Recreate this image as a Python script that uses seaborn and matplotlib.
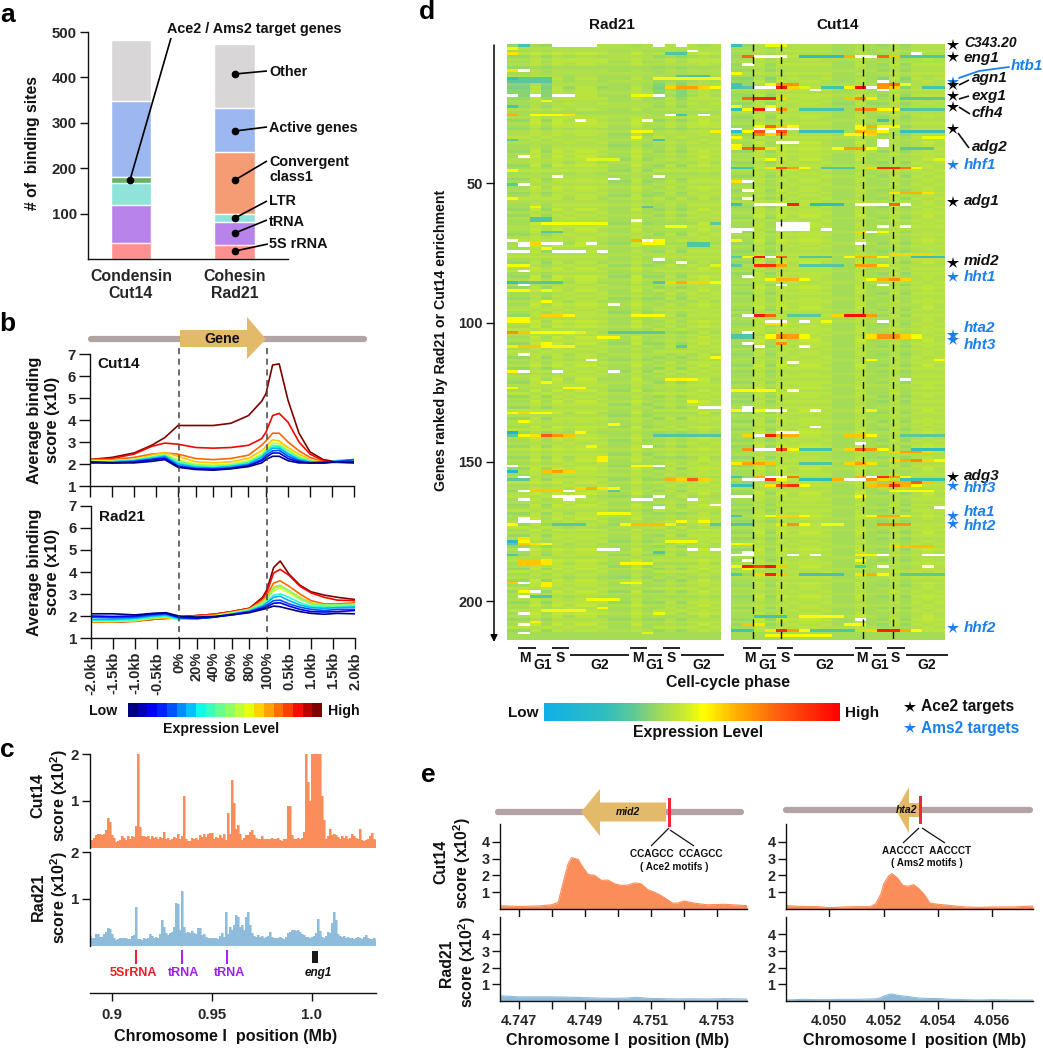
import numpy as np
import pandas as pd
import matplotlib
matplotlib.use("Agg")
import matplotlib.pyplot as plt
import seaborn as sns
from matplotlib.colors import LinearSegmentedColormap, ListedColormap
from matplotlib.patches import Polygon, Rectangle

W, H = 1043, 1050
W_CELL = np.nan  # white cell in the heatmaps

# panel a
a_categories = ["Condensin\nCut14", "Cohesin\nRad21"]
a_segments = ["5S rRNA", "tRNA", "LTR", "Ace2/Ams2", "Convergent", "Active", "Other"]
a_cut14 = [35, 85, 48, 12, 0, 167, 136]
a_rad21 = [30, 52, 18, 0, 135, 97, 141]
a_colors = ["#fe9090", "#b884ec", "#90e3da", "#66b266", "#f59c74", "#9db8f0", "#d8d6d7"]

# panel b
b_x = [-2, -1.5, -1, -.6, -.3, 0, .4, .8, 1.2, 1.6, 1.9, 2, 2.15, 2.3, 2.5, 2.75, 3, 3.3, 3.6, 4]
b_tick_pos = [-2, -1.5, -1, -.5, 0, .4, .8, 1.2, 1.6, 2, 2.5, 3, 3.5, 4]
b_tick_labels = ["-2.0kb", "-1.5kb", "-1.0kb", "-0.5kb", "0%", "20%", "40%", "60%", "80%", "100%",
                 "0.5kb", "1.0kb", "1.5kb", "2.0kb"]
b_cut14 = [
    [2.2, 2.3, 2.5, 2.85, 3.2, 3.75, 3.75, 3.75, 3.85, 4.2, 4.85, 5.2, 6.5, 6.55, 4.9, 3.4, 2.55, 2.2, 2.1, 2.1],
    [2.2, 2.25, 2.45, 2.8, 2.95, 2.9, 2.75, 2.72, 2.75, 2.85, 3.15, 3.45, 4.2, 4.3, 3.9, 3.0, 2.45, 2.15, 2.05, 2.1],
    [2.2, 2.2, 2.3, 2.45, 2.5, 2.45, 2.25, 2.2, 2.25, 2.4, 2.85, 3.05, 3.4, 3.4, 3.0, 2.6, 2.3, 2.1, 2.05, 2.05],
    [2.1, 2.15, 2.2, 2.4, 2.52, 2.35, 2.1, 2.05, 2.1, 2.25, 2.6, 2.8, 3.1, 3.05, 2.75, 2.45, 2.2, 2.08, 2.05, 2.1],
    [2.15, 2.15, 2.2, 2.35, 2.45, 2.2, 2.0, 1.95, 2.0, 2.15, 2.45, 2.65, 2.95, 2.95, 2.65, 2.35, 2.15, 2.05, 2.05, 2.15],
    [2.05, 2.1, 2.2, 2.3, 2.42, 2.12, 1.95, 1.9, 1.95, 2.1, 2.4, 2.6, 2.85, 2.85, 2.6, 2.3, 2.15, 2.05, 2.1, 2.1],
    [2.1, 2.1, 2.15, 2.3, 2.38, 2.05, 1.9, 1.85, 1.92, 2.05, 2.35, 2.55, 2.8, 2.8, 2.5, 2.25, 2.1, 2.05, 2.1, 2.15],
    [2.05, 2.1, 2.15, 2.25, 2.35, 2.0, 1.85, 1.82, 1.88, 2.0, 2.3, 2.5, 2.72, 2.72, 2.45, 2.2, 2.1, 2.05, 2.15, 2.2],
    [2.1, 2.05, 2.1, 2.2, 2.3, 1.92, 1.8, 1.78, 1.82, 1.95, 2.2, 2.4, 2.6, 2.62, 2.35, 2.15, 2.05, 2.1, 2.1, 2.2],
    [2.1, 2.05, 2.1, 2.2, 2.25, 1.88, 1.78, 1.75, 1.8, 1.92, 2.15, 2.3, 2.5, 2.5, 2.25, 2.1, 2.05, 2.05, 2.1, 2.1],
    [2.05, 2.05, 2.05, 2.12, 2.2, 1.85, 1.75, 1.72, 1.78, 1.88, 2.05, 2.2, 2.35, 2.35, 2.15, 2.05, 2.05, 2.05, 2.1, 2.05],
]
b_rad21 = [
    [1.75, 1.72, 1.78, 1.85, 1.9, 1.95, 2.02, 2.08, 2.2, 2.35, 2.85, 3.2, 4.2, 4.5, 3.9, 3.4, 3.1, 2.95, 2.85, 2.75],
    [1.75, 1.72, 1.78, 1.85, 1.9, 1.95, 2.02, 2.08, 2.2, 2.35, 2.8, 3.1, 3.95, 4.12, 3.85, 3.35, 3.05, 2.85, 2.72, 2.7],
    [1.72, 1.72, 1.75, 1.85, 1.88, 1.92, 2.0, 2.05, 2.18, 2.32, 2.7, 2.95, 3.5, 3.6, 3.35, 3.0, 2.7, 2.55, 2.55, 2.6],
    [1.75, 1.75, 1.78, 1.9, 1.92, 1.9, 1.95, 2.02, 2.15, 2.3, 2.65, 2.85, 3.3, 3.4, 3.15, 2.85, 2.6, 2.5, 2.5, 2.55],
    [1.78, 1.75, 1.8, 1.9, 1.95, 1.88, 1.92, 2.0, 2.15, 2.28, 2.6, 2.8, 3.15, 3.25, 3.05, 2.75, 2.55, 2.45, 2.45, 2.5],
    [1.8, 1.78, 1.82, 1.92, 1.98, 1.85, 1.9, 1.98, 2.12, 2.28, 2.6, 2.75, 3.25, 3.35, 3.15, 2.8, 2.55, 2.5, 2.5, 2.5],
    [1.82, 1.8, 1.85, 1.95, 2.0, 1.85, 1.88, 1.95, 2.1, 2.25, 2.5, 2.65, 2.95, 3.0, 2.85, 2.6, 2.45, 2.4, 2.4, 2.45],
    [1.85, 1.85, 1.9, 2.0, 2.05, 1.9, 1.88, 1.95, 2.08, 2.22, 2.45, 2.6, 2.85, 2.9, 2.7, 2.5, 2.38, 2.35, 2.38, 2.4],
    [1.95, 1.92, 1.95, 2.05, 2.1, 1.92, 1.88, 1.95, 2.08, 2.2, 2.4, 2.5, 2.7, 2.72, 2.55, 2.4, 2.3, 2.25, 2.3, 2.3],
    [2.0, 1.98, 2.0, 2.1, 2.12, 1.95, 1.9, 1.95, 2.05, 2.18, 2.35, 2.42, 2.58, 2.6, 2.45, 2.3, 2.2, 2.18, 2.2, 2.25],
    [2.1, 2.1, 2.05, 2.12, 2.15, 2.0, 1.95, 1.98, 2.05, 2.15, 2.3, 2.35, 2.45, 2.42, 2.32, 2.2, 2.12, 2.08, 2.12, 2.1],
]

# panel c, one value per kb from 0.889 Mb
c_start, c_step = 0.889, 0.001
c_cut14 = [.18, .18, .22, .28, .30, .29, .27, .30, .38, .64, .55, .28, .22, .13, .15, .18, .25, .22, .18, .26,
           .20, .26, .24, .47, 2.1, .45, .26, .25, .24, .26, .2, .25, .22, .24, .2, .24, .22, .34, .2, .22,
           .18, .2, .24, .22, .3, .2, .25, 1.1, .2, .15, .14, .22, .2, .22, .18, .28, .24, .3, .24, .3,
           .32, .32, .2, .24, .22, .27, .22, .3, .18, .74, .3, 1.45, .95, .4, .48, .3, .17, .22, .28, .28,
           .34, .38, .28, .22, .2, .2, .25, .2, .2, .2, .2, .22, .2, .2, .22, .18, .14, .2, .2, .9,
           .9, .28, .2, .2, .22, .2, .22, .35, 2.2, 1.4, 1.0, 2.5, 2.5, 2.5, 2.5, 2.5, 1.1, .6, .2, .25,
           .4, .28, .3, .27, .24, .2, .25, .22, .25, .2, .22, .3, .25, .22, .2, .4, .18, .15, .18, .2,
           .25, .32, .2, .18]
c_rad21 = [.22, .16, .18, .25, .26, .2, .2, .26, .3, .38, .36, .26, .18, .13, .14, .16, .16, .18, .16, .15,
           .14, .22, .24, .82, .14, .14, .13, .16, .14, .16, .25, .22, .18, .2, .18, .25, .55, .4, .28, .24,
           .28, .3, .4, .92, .9, .35, 1.18, .4, .28, .3, .28, .32, .28, .25, .38, .38, .24, .26, .2, .18,
           .18, .16, .18, .18, .15, .22, .28, .2, .72, .25, .4, .34, .45, .66, .62, .4, .44, .35, .62, .72,
           .45, .28, .22, .2, .24, .2, .22, .18, .2, .22, .3, .2, .18, .16, .18, .2, .18, .15, .2, .28,
           .3, .34, .34, .32, .34, .3, .26, .24, .2, .2, .16, .2, .22, .28, .58, .32, .2, .18, .22, .3,
           .28, .5, .72, .55, .25, .22, .2, .22, .18, .2, .18, .16, .15, .18, .2, .16, .15, .2, .24, .18,
           .15, .14, .16, .13]

# panel e
e_mid2_x = [4.7464, 4.7470, 4.7476, 4.7480, 4.7482, 4.74835, 4.7485, 4.7486, 4.7488, 4.7489, 4.7491, 4.7493,
            4.7495, 4.7497, 4.7499, 4.7501, 4.7503, 4.7505, 4.7507, 4.7509, 4.7511, 4.7513, 4.7515, 4.75165,
            4.7518, 4.7520, 4.7523, 4.7527, 4.7532, 4.7539]
e_mid2_cut14 = [.2, .15, .18, .25, .4, 1.6, 2.7, 3.05, 2.95, 2.6, 2.05, 2.0, 1.7, 1.72, 1.5, 1.4, 1.42, 1.55, 1.5,
                1.15, 1.0, .8, .55, .35, .35, .48, .35, .25, .28, .2]
e_mid2_rad21 = [.32, .25, .25, .25, .24, .24, .23, .22, .22, .2, .2, .18, .17, .17, .16, .17, .18, .22, .2, .16,
                .15, .15, .13, .13, .12, .13, .13, .12, .14, .12]
e_hta2_x = [4.0484, 4.049, 4.0496, 4.050, 4.0505, 4.051, 4.0515, 4.0517, 4.0519, 4.0520, 4.0522, 4.0523, 4.0525,
            4.0527, 4.0529, 4.0531, 4.0533, 4.0535, 4.0537, 4.054, 4.0545, 4.055, 4.0555, 4.056, 4.0568, 4.0575]
e_hta2_cut14 = [.2, .15, .14, .08, .12, .14, .14, .3, .9, 1.5, 2.0, 2.1, 1.85, 1.4, 1.35, 1.45, 1.2, .85, .35, .28,
                .2, .12, .1, .12, .12, .18]
e_hta2_rad21 = [.06, .1, .08, .08, .1, .1, .12, .13, .2, .3, .4, .42, .35, .3, .27, .22, .18, .16, .15, .15, .1,
                .08, .06, .08, .06, .06]

# panel d, general level of each row (digit per row) for four sets of columns
n_rows, n_cols = 214, 19
col_block = [0, 0, 1, 0, 1, 3, 1, 1, 3, 2, 2, 1, 2, 0, 3, 0, 3, 1, 3]
rad21_levels = [
    "46574656455664323334554655646546675655465664575645" "65645765546465566546756546754567546564755465675465"
    "65746564557646564756546657465647564665745656475646" "57465647564675645746564756465746546756475646574656"
    "46575646574",
    "56686777566676677777666756788767767667878778676677" "68767767686766878767788676767687688767867678767768"
    "78676878676776786767877686768767867768767876786778" "67877678677867687677867686776768776877867687768767"
    "78678767867",
    "66566656556556555655566556656556456545655465546554" "56554656555655465565546556556465546556556456554655"
    "56546554655654655465565546556465546554655645565465" "54656546556546556456554656554655646554655465564655"
    "46556546556",
    "66675776566555645657676656767757666767676757675667" "67676567667676576676657676765767676576676757676767"
    "67657676767565767676567667676767567667656767676756" "76767576767656767657676576767567676757676567676756"
    "76767567676",
]
cut14_levels = [
    "45654564546534436545645465456456456556465645565465" "56456465456546556465546545654656455646546556546465"
    "45654655465456546455646555464565465465465546455646" "54655464565465546456546654645564565465564655465645"
    "56465546456",
    "66766767667567677677676767767677676878777867767677" "67767677677876776777876767778676777678776777876777"
    "67776787767767787677677867767678767776787767877677" "67877677767877676778767778767678776778767768776787"
    "67767887677",
    "55555655565555655565545555565555565555655556555655" "56555565555565555655565556555556555655555655565556"
    "55565555565556555565556555655556555655565555565556" "55655556555565556555655565555565556555655565555655"
    "56555655565",
    "66767667667676667676766767667676676667676676676766" "76676766767667676676767667676676766767676676676766"
    "76767667676676767667676767667676766767676676767667" "67667676767667676767667676766767676676676767667676"
    "76676676767",
]

# single cells that stand out: (row, first column, last column, colour position)
rad21_cells = [
    (0, 1, 1, .25), (0, 4, 7, W_CELL), (0, 13, 13, W_CELL), (0, 15, 15, W_CELL), (1, 0, 0, .52), (2, 16, 16, W_CELL),
    (3, 0, 0, .58), (3, 14, 15, .27), (9, 0, 0, .58), (9, 1, 1, W_CELL), (11, 15, 15, .28), (11, 16, 17, .25),
    (12, 0, 0, .22), (12, 1, 3, .3), (12, 13, 18, .52), (13, 0, 3, .3), (15, 14, 14, .6), (15, 15, 16, .68),
    (15, 17, 17, .6), (15, 18, 18, .55), (18, 0, 0, W_CELL), (18, 2, 2, W_CELL), (18, 4, 5, W_CELL),
    (18, 13, 13, W_CELL), (18, 11, 12, .52), (20, 3, 3, .52), (22, 0, 0, .25), (25, 0, 0, .65), (25, 2, 4, .54),
    (25, 5, 5, .58), (25, 14, 14, W_CELL), (25, 15, 15, .25), (25, 17, 17, W_CELL), (27, 6, 6, W_CELL),
    (27, 12, 12, W_CELL), (31, 18, 18, .56), (31, 11, 12, .52), (33, 11, 11, .52), (34, 13, 13, .25), (34, 0, 0, .3),
    (40, 1, 1, W_CELL), (41, 7, 9, .5), (45, 0, 0, .55), (47, 4, 4, W_CELL), (47, 13, 13, W_CELL), (48, 9, 9, W_CELL),
    (50, 1, 1, W_CELL), (50, 0, 0, .3), (55, 0, 0, .53), (58, 2, 2, .56), (58, 12, 12, .28), (62, 2, 3, .27),
    (63, 2, 3, .27), (63, 11, 11, W_CELL), (64, 3, 8, .53), (64, 18, 18, .3), (65, 14, 15, .53), (67, 3, 4, .3),
    (70, 0, 0, W_CELL), (70, 11, 11, .65), (70, 12, 12, W_CELL), (70, 13, 13, .55), (71, 1, 1, W_CELL), (72, 1, 1, W_CELL),
    (71, 2, 2, .6), (71, 3, 4, W_CELL), (71, 7, 7, W_CELL), (71, 12, 13, .55), (71, 16, 17, .28), (72, 16, 17, .28),
    (73, 3, 3, .55), (74, 0, 1, W_CELL), (74, 4, 6, W_CELL), (74, 8, 8, W_CELL), (77, 13, 13, W_CELL), (78, 15, 15, W_CELL),
    (79, 0, 1, .53), (79, 18, 18, .5), (81, 1, 1, W_CELL), (85, 0, 0, .22), (85, 1, 2, .3), (85, 3, 4, .28), (85, 13, 13, .28),
    (85, 14, 14, .6), (85, 15, 15, .65), (85, 16, 17, .6), (85, 18, 18, .52), (86, 1, 1, W_CELL), (88, 0, 1, .55),
    (88, 3, 3, .52), (92, 3, 3, .54), (93, 9, 9, W_CELL), (97, 3, 4, .6), (97, 5, 5, .55), (97, 11, 13, .53),
    (98, 0, 1, .55), (99, 0, 1, .55), (103, 0, 0, .7), (103, 1, 1, .62), (103, 2, 5, .55), (103, 6, 6, .5),
    (103, 9, 13, .3), (105, 8, 9, .55), (107, 3, 3, .55), (108, 0, 0, .57), (108, 1, 2, .62), (108, 3, 3, .55),
    (108, 4, 5, .52), (108, 15, 15, .3), (111, 1, 1, W_CELL), (112, 18, 18, .53), (113, 7, 7, W_CELL), (117, 0, 0, .55),
    (117, 1, 1, W_CELL), (117, 4, 4, W_CELL), (117, 9, 9, W_CELL), (120, 14, 16, .52), (120, 15, 15, .56), (121, 3, 3, .53),
    (123, 0, 0, .53), (123, 5, 6, .55), (128, 16, 16, .52), (130, 17, 18, W_CELL), (132, 0, 0, .55), (132, 1, 1, .6),
    (132, 2, 3, .53), (135, 1, 1, .54), (136, 9, 9, .55), (139, 0, 0, .1), (139, 6, 6, .55), (140, 0, 0, .3), (140, 1, 1, .55),
    (140, 2, 2, .58), (140, 3, 3, .8), (140, 4, 4, .7), (140, 5, 5, .62), (140, 13, 18, .28), (144, 12, 12, W_CELL),
    (144, 7, 7, .52), (148, 8, 8, .56), (149, 8, 8, .56), (151, 0, 0, W_CELL), (151, 11, 12, .55), (151, 13, 13, W_CELL),
    (153, 0, 0, .12), (153, 3, 3, .62), (153, 4, 4, .68), (153, 5, 5, .6), (155, 1, 1, W_CELL), (156, 14, 14, .65),
    (156, 15, 15, .6), (156, 16, 16, .8), (156, 17, 17, .6), (156, 0, 1, .3), (159, 6, 6, .6), (159, 7, 7, .65),
    (159, 8, 8, .58), (159, 9, 9, .55), (160, 1, 1, W_CELL), (160, 2, 4, .62), (160, 5, 5, W_CELL), (160, 9, 9, .3),
    (162, 4, 6, W_CELL), (162, 13, 13, W_CELL), (163, 1, 1, W_CELL), (163, 5, 5, W_CELL), (163, 11, 12, W_CELL),
    (163, 16, 16, W_CELL), (165, 18, 18, W_CELL), (166, 13, 13, W_CELL), (168, 8, 10, .53), (170, 1, 1, W_CELL),
    (171, 1, 2, W_CELL), (171, 15, 15, .54), (171, 17, 17, .55), (172, 0, 0, .54), (172, 4, 6, .3), (172, 10, 10, .55),
    (172, 11, 13, .63), (172, 14, 14, .56), (172, 18, 18, .3), (177, 1, 1, .58), (178, 0, 0, .15), (178, 1, 1, .55),
    (178, 14, 16, .52), (179, 0, 0, .3), (179, 1, 1, .62), (179, 2, 2, .58), (179, 3, 3, .53), (181, 1, 1, W_CELL),
    (181, 8, 9, W_CELL), (181, 16, 16, W_CELL), (181, 18, 18, W_CELL), (182, 13, 13, .28), (183, 0, 0, .28),
    (185, 1, 2, .62), (186, 1, 2, .62), (185, 3, 3, .57), (186, 3, 3, .57), (186, 10, 11, .55), (186, 12, 12, .52),
    (193, 0, 0, .62), (193, 1, 1, W_CELL), (193, 3, 3, .56), (193, 10, 11, .53), (194, 3, 3, .56), (196, 1, 1, .55),
    (196, 2, 2, W_CELL), (198, 1, 1, W_CELL), (198, 2, 3, .28), (199, 7, 9, .53), (202, 8, 8, .55), (203, 3, 6, .52),
    (204, 1, 1, W_CELL), (204, 13, 13, .52), (207, 2, 2, .56), (208, 1, 1, W_CELL), (211, 1, 1, W_CELL), (211, 12, 12, .5),
]
cut14_cells = [
    (0, 0, 0, .22), (0, 3, 4, .52), (3, 16, 16, W_CELL), (4, 1, 1, .78), (4, 2, 4, W_CELL), (4, 6, 9, .2), (4, 10, 10, .65),
    (4, 11, 12, W_CELL), (4, 13, 13, .78), (4, 14, 14, .62), (4, 15, 18, .28), (7, 1, 1, W_CELL), (10, 0, 0, .55),
    (13, 13, 13, W_CELL), (14, 0, 0, .25), (14, 3, 3, .55), (14, 4, 5, .7), (14, 13, 13, .7), (14, 14, 14, .75), (14, 15, 15, .52),
    (15, 0, 0, .25), (15, 1, 1, .28), (15, 2, 3, W_CELL), (15, 4, 4, .95), (15, 5, 5, .6), (15, 6, 6, .5), (15, 8, 9, .25),
    (15, 10, 10, .55), (15, 11, 11, .98), (15, 12, 12, W_CELL), (15, 13, 13, .7), (15, 14, 14, .6), (15, 17, 18, .25),
    (16, 7, 7, W_CELL), (16, 13, 13, W_CELL), (19, 1, 1, .78), (19, 2, 3, .92), (19, 4, 4, .6), (19, 10, 10, .62),
    (19, 11, 11, .72), (19, 12, 12, .57), (19, 15, 18, .3), (22, 0, 0, .52), (22, 3, 3, .52), (23, 0, 0, .2), (23, 1, 1, .52),
    (23, 2, 2, .95), (23, 3, 3, W_CELL), (23, 4, 4, .7), (23, 6, 9, .25), (23, 11, 12, .72), (23, 13, 14, .55), (23, 15, 18, .28),
    (27, 13, 13, .25), (29, 2, 2, .53), (29, 3, 3, .78), (29, 4, 4, .62), (29, 5, 5, .55), (29, 11, 11, .55), (29, 12, 12, .65),
    (29, 13, 14, .55), (30, 0, 0, W_CELL), (30, 2, 2, W_CELL), (30, 3, 3, .55), (30, 4, 5, W_CELL), (30, 11, 11, .52),
    (30, 13, 13, W_CELL), (31, 0, 0, .2), (31, 1, 1, .53), (31, 2, 2, .82), (31, 3, 3, W_CELL), (31, 4, 4, .82), (31, 6, 9, .22),
    (31, 11, 11, .65), (31, 12, 12, .62), (31, 13, 13, .55), (31, 15, 18, .22), (32, 2, 2, .72), (32, 3, 3, .6), (32, 4, 4, .7),
    (32, 10, 11, .55), (32, 12, 12, .6), (33, 0, 0, .55), (33, 17, 18, .52), (34, 13, 13, W_CELL), (35, 4, 5, W_CELL),
    (35, 13, 13, W_CELL), (36, 13, 13, W_CELL), (36, 0, 0, .55), (37, 0, 0, .55), (37, 1, 2, .78), (37, 3, 3, .58), (37, 9, 9, .55),
    (37, 10, 11, .68), (37, 12, 12, .54), (37, 15, 17, .3), (41, 3, 3, .53), (41, 18, 18, .5), (44, 0, 1, .25), (44, 3, 3, .58),
    (44, 4, 4, .82), (44, 5, 5, .68), (44, 6, 6, .55), (44, 8, 10, .28), (44, 12, 12, .6), (44, 13, 14, .9), (44, 15, 15, .75),
    (44, 16, 16, .52), (49, 0, 0, .58), (49, 1, 1, W_CELL), (52, 1, 1, W_CELL), (53, 14, 14, .58), (53, 15, 16, .65), (53, 17, 17, .58),
    (55, 1, 1, W_CELL), (57, 0, 0, .22), (57, 2, 4, W_CELL), (57, 5, 5, .92), (57, 7, 9, .2), (57, 11, 13, W_CELL), (57, 14, 14, .78),
    (57, 15, 15, W_CELL), (64, 4, 6, W_CELL), (65, 4, 6, W_CELL), (65, 13, 13, W_CELL), (65, 15, 15, W_CELL), (66, 0, 1, W_CELL),
    (66, 4, 6, W_CELL), (66, 8, 8, W_CELL), (67, 0, 0, W_CELL), (67, 11, 11, .6), (67, 12, 12, W_CELL), (67, 13, 13, .53),
    (70, 0, 0, .55), (71, 11, 11, W_CELL), (75, 14, 17, .6), (76, 0, 0, .3), (76, 1, 1, .55), (76, 2, 2, .95), (76, 3, 3, W_CELL),
    (76, 4, 4, .78), (76, 6, 8, .28), (76, 10, 10, .55), (76, 11, 12, .65), (76, 13, 13, .55), (76, 16, 18, .22), (79, 0, 0, .3),
    (79, 2, 3, .9), (79, 4, 4, .68), (79, 6, 9, .28), (79, 11, 12, .68), (79, 13, 13, .55), (83, 1, 1, W_CELL), (84, 3, 3, .55),
    (84, 4, 5, .65), (84, 6, 6, .53), (84, 12, 12, .55), (84, 13, 13, .65), (84, 14, 14, .72), (84, 15, 15, .6), (86, 4, 4, W_CELL),
    (86, 13, 13, W_CELL), (97, 1, 1, W_CELL), (97, 2, 2, .95), (97, 3, 3, .78), (97, 5, 7, .3), (97, 9, 9, .6), (97, 10, 11, .97),
    (97, 12, 12, .68), (99, 3, 4, W_CELL), (99, 6, 6, W_CELL), (99, 8, 8, .52), (99, 13, 13, W_CELL), (100, 3, 4, .58),
    (103, 1, 1, W_CELL), (104, 0, 1, .27), (104, 3, 3, .55), (104, 4, 4, .7), (104, 5, 5, .68), (104, 6, 6, .55), (104, 12, 12, .58),
    (104, 13, 14, .7), (104, 15, 15, .6), (104, 16, 16, .53), (105, 0, 1, .27), (105, 3, 3, .55), (105, 4, 4, .7), (105, 5, 5, .68),
    (105, 6, 6, .55), (105, 12, 12, .58), (105, 13, 14, .7), (105, 15, 15, .6), (105, 16, 16, .53), (107, 1, 1, W_CELL),
    (107, 4, 4, .7), (108, 2, 2, W_CELL), (108, 6, 6, W_CELL), (113, 12, 12, .55), (113, 18, 18, .55), (114, 5, 5, W_CELL),
    (120, 15, 15, W_CELL), (124, 0, 0, .55), (124, 1, 3, .54), (124, 5, 5, W_CELL), (130, 1, 1, W_CELL), (131, 0, 0, .55),
    (131, 1, 1, W_CELL), (131, 2, 2, .55), (131, 3, 4, W_CELL), (131, 7, 7, W_CELL), (131, 12, 12, .56), (137, 7, 7, W_CELL),
    (139, 4, 5, W_CELL), (140, 1, 1, .6), (140, 2, 2, W_CELL), (140, 3, 3, .93), (140, 4, 5, .65), (140, 10, 11, .62), (140, 12, 12, .55),
    (140, 15, 18, .3), (143, 11, 11, W_CELL), (145, 1, 1, .7), (145, 2, 3, W_CELL), (145, 4, 4, .85), (145, 5, 5, .55), (145, 6, 8, .25),
    (145, 10, 10, .6), (145, 11, 11, .8), (145, 12, 12, .7), (145, 13, 13, .55), (145, 16, 18, .2), (146, 14, 14, .6), (146, 15, 16, .68),
    (146, 17, 17, .6), (149, 14, 14, .6), (149, 15, 15, .65), (149, 16, 16, .72), (149, 17, 17, .6), (149, 18, 18, .55), (150, 0, 0, .57),
    (150, 1, 2, .67), (150, 3, 3, .62), (150, 6, 8, .28), (150, 10, 10, .6), (150, 11, 11, .68), (150, 12, 12, .58), (155, 0, 0, .25),
    (155, 2, 2, .65), (155, 3, 4, W_CELL), (155, 5, 5, .75), (155, 11, 11, .65), (155, 12, 12, W_CELL), (155, 13, 13, .9), (155, 14, 14, .7),
    (155, 15, 15, .55), (156, 1, 2, W_CELL), (156, 3, 3, .88), (156, 4, 4, .55), (156, 6, 8, .2), (156, 9, 9, .65), (156, 10, 11, W_CELL),
    (156, 12, 12, .7), (156, 13, 13, .6), (156, 15, 18, .22), (157, 14, 15, .65), (157, 16, 16, .8), (157, 17, 17, .62), (158, 0, 1, .22),
    (158, 3, 3, .57), (158, 4, 4, .82), (158, 5, 5, .9), (158, 6, 6, .55), (158, 12, 12, .62), (158, 13, 13, .65), (158, 14, 14, .85),
    (158, 15, 15, .65), (158, 16, 16, .55), (160, 14, 17, .53), (162, 0, 1, W_CELL), (162, 11, 11, .54), (166, 18, 18, W_CELL),
    (169, 0, 0, .28), (169, 3, 3, .53), (169, 4, 5, .6), (169, 6, 6, .55), (169, 12, 12, .55), (169, 13, 14, .66), (169, 15, 15, .56),
    (172, 0, 1, .28), (172, 4, 4, .58), (172, 5, 5, .7), (172, 6, 6, .55), (172, 8, 9, .52), (172, 13, 15, .7), (179, 0, 0, .53),
    (179, 1, 1, .57), (180, 14, 14, .6), (180, 15, 17, .63), (182, 1, 1, W_CELL), (183, 0, 1, W_CELL), (183, 5, 5, W_CELL),
    (183, 7, 7, W_CELL), (183, 11, 12, .56), (183, 13, 13, W_CELL), (183, 17, 18, W_CELL), (185, 1, 1, W_CELL), (185, 11, 11, .54),
    (187, 0, 0, .55), (187, 1, 1, .95), (187, 2, 2, .85), (187, 3, 3, .95), (187, 4, 4, .62), (187, 11, 11, .3), (187, 13, 13, W_CELL),
    (187, 17, 17, W_CELL), (188, 1, 1, .55), (190, 0, 0, .28), (190, 2, 2, .6), (190, 3, 3, .92), (190, 4, 4, .62), (190, 6, 9, .25),
    (190, 11, 11, .58), (190, 12, 12, .65), (190, 13, 13, .55), (190, 15, 18, .3), (205, 2, 4, .25), (205, 6, 9, .53), (206, 11, 11, W_CELL),
    (208, 1, 1, .62), (208, 2, 2, .57), (208, 10, 11, .54), (210, 0, 1, .25), (210, 3, 3, .57), (210, 4, 4, .9), (210, 5, 5, .68),
    (210, 6, 6, .55), (210, 7, 10, .28), (210, 12, 12, .6), (210, 13, 14, .92), (210, 15, 15, .65), (210, 16, 16, .53), (212, 3, 8, .53),
]

sns.set_style("white")
plt.rcParams["font.family"] = ["Liberation Sans", "DejaVu Sans"]
plt.rcParams["font.weight"] = "bold"
plt.rcParams["axes.labelweight"] = "bold"
plt.rcParams["mathtext.fontset"] = "custom"
plt.rcParams["mathtext.bf"] = "Liberation Sans:bold"
plt.rcParams["mathtext.rm"] = "Liberation Sans:bold"

fig = plt.figure(figsize=(W / 100, H / 100), dpi=100, facecolor="white")


def px_axes(left, top, right, bottom):
    return fig.add_axes([left / W, 1 - bottom / H, (right - left) / W, (bottom - top) / H])


def style_axis(ax, fs=10, tick_len=6):
    sns.despine(ax=ax)
    for s in ("left", "bottom"):
        ax.spines[s].set_color("#111111")
        ax.spines[s].set_linewidth(1)
    ax.tick_params(axis="both", length=tick_len, width=1, labelsize=fs, color="#111111",
                   left=True, bottom=True, pad=2)
    ax.set_xlabel("")
    ax.set_ylabel("")


def jet_colors(n):
    return [tuple(c) for c in plt.get_cmap("jet")(np.linspace(0, 1, n))]


# a
ax = px_axes(88, 32, 288, 259)
tops_cut = np.cumsum(a_cut14)
tops_rad = np.cumsum(a_rad21)
for i in range(len(a_segments) - 1, -1, -1):
    sns.barplot(x=a_categories, y=[tops_cut[i], tops_rad[i]], color=a_colors[i], saturation=1,
                width=0.39, ax=ax)
ax.set_xlim(-0.415, 1.517)
ax.set_ylim(0, 500)
ax.set_yticks([100, 200, 300, 400, 500])
style_axis(ax, 10.8)
ax.tick_params(axis="x", length=0, pad=7, labelsize=11.4)

# b
line_colors = jet_colors(len(b_cut14))[::-1]
for rect, curves, is_bottom in (((90, 354, 354, 486), b_cut14, False), ((91, 506, 355, 638), b_rad21, True)):
    ax = px_axes(*rect)
    long = pd.DataFrame({
        "x": np.tile(b_x, len(curves)),
        "y": np.concatenate(curves),
        "level": np.repeat(np.arange(len(curves)), len(b_x)),
    })
    sns.lineplot(data=long, x="x", y="y", hue="level", palette=line_colors, legend=False,
                 estimator=None, linewidth=1.2, ax=ax)
    ax.set_xlim(-2, 4)
    ax.set_ylim(1, 7)
    ax.set_yticks(range(1, 8))
    ax.set_xticks(b_tick_pos)
    style_axis(ax, 10.8, 8)
    if is_bottom:
        ax.set_xticklabels(b_tick_labels, rotation=90, fontsize=10.5)
    else:
        ax.set_xticklabels([])

ax = px_axes(128, 703, 322, 717)
sns.heatmap(np.arange(20)[None, :], cmap=ListedColormap(jet_colors(20)), cbar=False, xticklabels=False,
            yticklabels=False, ax=ax)

# c
c_x = c_start + np.arange(len(c_cut14)) * c_step
c_x2 = c_start + np.arange(len(c_rad21)) * c_step
ax = px_axes(90, 754, 376, 848)
sns.lineplot(x=c_x, y=c_cut14, color="#fb8d5b", linewidth=0.4, drawstyle="steps-mid", ax=ax)
ax.fill_between(c_x, c_cut14, step="mid", color="#fb8d5b", lw=0)
ax.set_xlim(0.889, 1.032)
ax.set_ylim(0, 2)
ax.set_yticks([1, 2])
ax.set_xticks([])
style_axis(ax, 10.8)
ax.spines["bottom"].set_visible(False)

ax = px_axes(90, 852, 376, 946)
sns.lineplot(x=c_x2, y=c_rad21, color="#8fbcdb", linewidth=0.4, drawstyle="steps-mid", ax=ax)
ax.fill_between(c_x2, c_rad21, step="mid", color="#8fbcdb", lw=0)
ax.set_xlim(0.889, 1.032)
ax.set_ylim(0, 2)
ax.set_yticks([1, 2])
ax.set_xticks([0.9, 0.95, 1.0])
ax.set_xticklabels(["0.9", "0.95", "1.0"])
style_axis(ax, 10.8)
ax.spines["bottom"].set_position(("outward", 33.8))
ax.tick_params(axis="x", pad=5)

# d
d_cmap = LinearSegmentedColormap.from_list("d_cmap", [
    (0, "#0fb0e8"), (.2, "#2fbdc0"), (.3, "#5cc898"), (.4, "#a5dc55"), (.47, "#c8ea30"),
    (.54, "#ffff00"), (.65, "#ffb000"), (.8, "#ff5a10"), (1, "#ff0000")])


def build_matrix(levels, cells):
    rows = [s.ljust(n_rows, "5")[:n_rows] for s in levels]
    m = np.zeros((n_rows, n_cols))
    for c in range(n_cols):
        m[:, c] = [0.30 + 0.02 * int(ch) for ch in rows[col_block[c]]]
    for r, c0, c1, v in cells:
        m[r, c0:c1 + 1] = v
    return m


for rect, levels, cells in (((507, 44, 721, 640), rad21_levels, rad21_cells),
                            ((731, 44, 945, 640), cut14_levels, cut14_cells)):
    ax = px_axes(*rect)
    sns.heatmap(build_matrix(levels, cells), cmap=d_cmap, vmin=0, vmax=1, cbar=False,
                xticklabels=False, yticklabels=False, ax=ax)

ax = px_axes(494, 44, 495, 640)
ax.set_ylim(n_rows, 0)
ax.set_yticks([50, 100, 150, 200])
ax.set_xticks([])
style_axis(ax, 10.5, 6)
ax.spines["left"].set_visible(False)
ax.spines["bottom"].set_visible(False)

ax = px_axes(544, 703, 840, 721)
sns.heatmap(np.linspace(0, 1, 256)[None, :], cmap=d_cmap, vmin=0, vmax=1, cbar=False,
            xticklabels=False, yticklabels=False, ax=ax)

# e
e_panels = [
    (500, 747, e_mid2_x, e_mid2_cut14, e_mid2_rad21, (4.74644, 4.7539),
     [4.747, 4.748, 4.749, 4.750, 4.751, 4.752, 4.753], ["4.747", "", "4.749", "", "4.751", "", "4.753"]),
    (786, 1033, e_hta2_x, e_hta2_cut14, e_hta2_rad21, (4.0484, 4.0575),
     [4.050, 4.052, 4.054, 4.056], ["4.050", "4.052", "4.054", "4.056"]),
]
for left, right, ex, cut, rad, lim, ticks, labels in e_panels:
    for top, bottom, ys, col, show in ((824, 909, cut, "#fb8d5b", False), (917, 1001, rad, "#8fbcdb", True)):
        ax = px_axes(left, top, right, bottom)
        sns.lineplot(x=ex, y=ys, color=col, linewidth=0.8, ax=ax)
        ax.fill_between(ex, ys, color=col, lw=0)
        ax.set_xlim(*lim)
        ax.set_ylim(0, 5.05)
        ax.set_yticks([1, 2, 3, 4])
        ax.set_xticks(ticks)
        ax.set_xticklabels(labels if show else [""] * len(ticks))
        style_axis(ax, 10.4, 5.5)
        if show:
            ax.tick_params(axis="x", pad=4)

# everything drawn in picture coordinates: labels, gene tracks, stars
ov = fig.add_axes([0, 0, 1, 1], zorder=20)
ov.set_xlim(0, W)
ov.set_ylim(H, 0)
ov.axis("off")
ov.patch.set_alpha(0)


def txt(x, y, s, size=10, color="#111111", ha="center", style="normal", rotation=0):
    ov.text(x, y, s, fontsize=size, color=color, ha=ha, va="center", fontstyle=style,
            rotation=rotation, fontweight="bold", rotation_mode="anchor")


def seg(x0, y0, x1, y1, color="#111111", lw=1.2, **kw):
    ov.plot([x0, x1], [y0, y1], color=color, lw=lw, solid_capstyle="butt", **kw)


def gene_track(x0, x1, y, tip, base, end, half_shaft, top, bottom):
    ov.plot([x0, x1], [y, y], color="#b3a3a3", lw=4.5, solid_capstyle="round", zorder=1)
    ov.add_patch(Polygon([(tip, y), (base, top), (base, y - half_shaft), (end, y - half_shaft),
                          (end, y + half_shaft), (base, y + half_shaft), (base, bottom)],
                         closed=True, color="#e3b96a", lw=0, zorder=2))


for letter, x, y in (("a", 8, 15), ("b", 7, 324), ("c", 7, 750), ("d", 427, 12), ("e", 428, 775)):
    txt(x, y, letter, 19, "black")

# a labels
txt(33, 143, "# of  binding sites", 11.3, rotation=90)
txt(167, 29, "Ace2 / Ams2 target genes", 10.4, ha="left")
for x0, y0, x1, y1 in ((130, 180, 171, 38), (235, 74, 267, 71), (235, 131, 267, 127), (235, 180, 267, 161),
                       (235, 218, 267, 201), (235, 233, 267, 220), (235, 251, 268, 244)):
    seg(x0, y0, x1, y1, "black", 1.2)
    ov.plot([x0], [y0], "o", color="black", ms=4.5)
for s, y in (("Other", 72), ("Active genes", 128), ("Convergent", 162), ("class1", 177), ("LTR", 201),
             ("tRNA", 222), ("5S rRNA", 244)):
    txt(269, y, s, 10.4, ha="left")

# b labels
ov.plot([91, 364], [339, 339], color="#b3a3a3", lw=4.5, solid_capstyle="round", zorder=1)
ov.add_patch(Polygon([(266, 339), (247, 317), (247, 330), (180, 330), (180, 347), (247, 347), (247, 359)],
                     closed=True, color="#e3b96a", lw=0, zorder=2))
txt(222, 339, "Gene", 10.3)
for x in (179, 267):
    ov.plot([x, x], [348, 638], color="#444444", lw=1.1, ls=(0, (4, 3)))
for yc in (420, 572):
    txt(34, yc, "Average binding", 11.8, rotation=90)
    txt(53, yc, "score (x10)", 11.8, rotation=90)
txt(97, 364, "Cut14", 11, ha="left")
txt(99, 517, "Rad21", 11, ha="left")
txt(103, 711, "Low", 10.2)
txt(344, 711, "High", 10.2)
txt(221, 729, "Expression Level", 10.2)

# c labels
for xc, yc, s in ((38, 795, "Cut14"), (59, 795, r"score (x10$^{\mathbf{2}}$)"),
                  (38, 897, "Rad21"), (59, 897, r"score (x10$^{\mathbf{2}}$)")):
    txt(xc, yc, s, 11.6, rotation=90)
seg(136, 950, 136, 964, "#ee1c25", 1.4)
txt(133, 973, "5SrRNA", 9, "#ee1c25")
for x, lx in ((181.5, 183), (227, 229)):
    seg(x, 950, x, 964, "#a020f0", 1.4)
    txt(lx, 973, "tRNA", 9, "#a020f0")
ov.add_patch(Rectangle((312, 951), 6, 12, color="#1a1a1a", lw=0))
txt(318, 973, "eng1", 8.5, style="italic")
txt(226, 1036, "Chromosome I  position (Mb)", 11.6)

# d labels
txt(612, 25, "Rad21", 11)
txt(838, 25, "Cut14", 11)
txt(441, 340, "Genes ranked by Rad21 or Cut14 enrichment", 10.2, rotation=90)
ov.annotate("", xy=(494, 642), xytext=(494, 45),
            arrowprops=dict(arrowstyle="-|>", color="black", lw=1.1, shrinkA=0, shrinkB=0))
for x in (753.3, 781, 863.3, 893.3):
    ov.plot([x, x], [44, 641], color="#111111", lw=1.0, ls=(0, (5, 4)))
phase_spans = [(517, 536, 0), (536, 551, 1), (551, 569, 0), (569, 629, 1), (629, 647, 0), (647, 662, 1), (662, 680, 0),
               (680, 724, 1), (742, 761, 0), (761, 776, 1), (776, 793, 0), (793, 854, 1), (854, 872, 0), (872, 886, 1),
               (886, 905, 0), (905, 948, 1)]
for x0, x1, low in phase_spans:
    y = 655 if low else 648
    seg(x0 + 0.5, y, x1 - 0.5, y, "#111111", 1.3)
phase_labels = [(525, "M"), (543, "G1"), (560, "S"), (600, "G2"), (638, "M"), (655, "G1"), (671, "S"), (702, "G2"),
                (750, "M"), (768, "G1"), (785, "S"), (825, "G2"), (862, "M"), (880, "G1"), (895, "S"), (927, "G2")]
for x, s in phase_labels:
    txt(x, 665 if s[0] == "G" else 658, s, 10)
txt(728, 683, "Cell-cycle phase", 11.4)
txt(523, 713, "Low", 11)
txt(862, 713, "High", 11)
txt(698, 733, "Expression Level", 11.4)

BLUE = "#1a80f0"
stars_black = [45, 57, 85, 96, 107, 129, 202, 263, 477]
stars_blue = [82, 165, 277, 335, 340, 486, 516, 524, 628]
ov.plot([953] * len(stars_blue), stars_blue, "*", color=BLUE, ms=9, mew=0, ls="none")
ov.plot([953] * len(stars_black), stars_black, "*", color="black", ms=9, mew=0, ls="none")
for y, s, x, c, size in ((43, "C343.20", 964, "#111111", 10), (58, "eng1", 964, "#111111", 11), (78, "agn1", 972, "#111111", 11),
                         (66, "htb1", 1011, BLUE, 11), (96, "exg1", 972, "#111111", 11), (113, "cfh4", 972, "#111111", 11),
                         (147, "adg2", 972, "#111111", 11), (165, "hhf1", 964, BLUE, 11), (201, "adg1", 964, "#111111", 11),
                         (261, "mid2", 964, "#111111", 11), (277, "hht1", 964, BLUE, 11), (328, "hta2", 964, BLUE, 11),
                         (345, "hht3", 964, BLUE, 11), (476, "adg3", 964, "#111111", 11), (488, "hhf3", 964, BLUE, 11),
                         (512, "hta1", 964, BLUE, 11), (526, "hht2", 964, BLUE, 11), (628, "hhf2", 964, BLUE, 11)):
    txt(x, y, s, size, c, ha="left", style="italic")
ov.plot([959, 979, 1009], [78, 71, 67], color=BLUE, lw=1.3)
seg(959, 85, 969, 80)
seg(959, 99, 969, 96)
seg(959, 107, 970, 114)
seg(958, 133, 969, 148)
ov.plot([910], [707], "*", color="black", ms=9, mew=0)
ov.plot([910], [728], "*", color=BLUE, ms=9, mew=0)
txt(921, 707, "Ace2 targets", 11.2, ha="left")
txt(921, 728, "Ams2 targets", 11.2, BLUE, ha="left")

# e labels
gene_track(498, 741, 812, 581, 600, 666, 9.5, 789, 836)
ov.add_patch(Rectangle((667.5, 798), 3.5, 29, color="#f5243c", lw=0, zorder=3))
txt(628, 812, "mid2", 7.5, style="italic")
seg(669, 828, 651, 846, "#111111", 0.9)
seg(670, 830, 694, 846, "#111111", 0.9)
txt(676, 854, "CCAGCC  CCAGCC", 7.2)
txt(674, 867, "( Ace2 motifs )", 7.2)

gene_track(786, 1030, 810, 896, 909, 920, 7, 787, 833)
ov.add_patch(Rectangle((918.5, 796), 3.5, 28, color="#f5243c", lw=0, zorder=3))
txt(907, 810, "hta2", 7.5, style="italic")
seg(919, 828, 903, 843, "#111111", 0.9)
seg(922, 828, 945, 843, "#111111", 0.9)
txt(927, 851, "AACCCT  AACCCT", 7.2)
txt(927, 863, "( Ams2 motifs )", 7.2)

for xc, yc, s in ((441, 862, "Cut14"), (462, 863, r"score (x10$^{\mathbf{2}}$)"),
                  (447, 963, "Rad21"), (467, 962, r"score (x10$^{\mathbf{2}}$)")):
    txt(xc, yc, s, 11.4, rotation=90)
txt(618, 1041, "Chromosome I  position (Mb)", 11.6)
txt(915, 1041, "Chromosome I  position (Mb)", 11.6)

fig.savefig("out.png", dpi=100, facecolor="white")
